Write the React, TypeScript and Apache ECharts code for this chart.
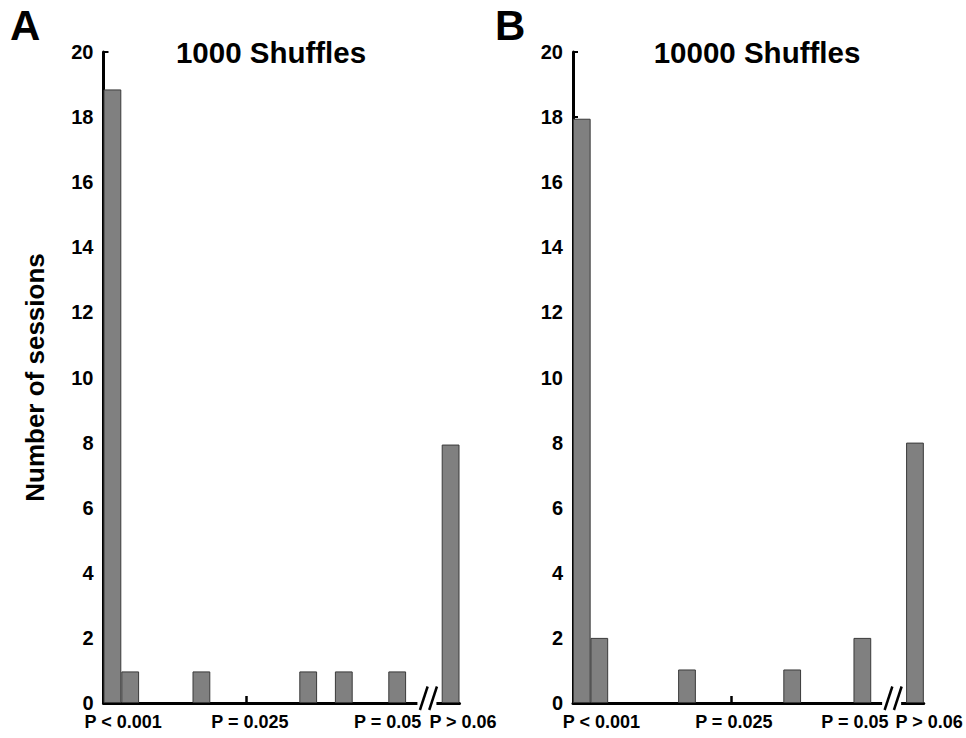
import React, { useEffect, useRef } from "react";
import * as echarts from "echarts";

// ---- data (x in bin units: bin k spans [k, k+1]) ----
const binsA = [0, 1, 5, 11, 13, 16, 19];
const countsA = [18.85, 0.97, 0.97, 0.97, 0.97, 0.97, 7.94];
const binsB = [0, 1, 6, 12, 16, 19];
const countsB = [17.95, 2, 1.03, 1.03, 2, 8];
const xTickLabels = ["P < 0.001", "P = 0.025", "P = 0.05", "P > 0.06"];
const tickPosA = [0.46, 8.01, 16.47, 19.28];
const tickPosB = [0.49, 9.0, 16.55, 19.42];
const labelPosA = [1.1, 8.23, 15.96, 20];
const labelPosB = [1.62, 9.17, 16.07, 20];
const titles = ["1000 Shuffles", "10000 Shuffles"];
const panelLetters = ["A", "B"];
const yName = "Number of sessions";
const breakAt = 18.17;

const FONT = "'Liberation Sans', Arial, sans-serif";

export default function App() {
  const ref = useRef<HTMLDivElement>(null);
  useEffect(() => {
    if (!ref.current) return;
    const chart = echarts.init(ref.current, null, { renderer: "svg" });

    const grids = [
      { left: 103.5, top: 52, width: 356, height: 651 },
      { left: 573, top: 52, width: 355, height: 651 },
    ];

    const makeX = (gi: number, ticks: number[], labels: number[], lastPad: number) => ({
      type: "value",
      gridIndex: gi,
      min: 0,
      max: 20,
      axisLine: { show: true, onZero: false, lineStyle: { color: "#000", width: 3 } },
      splitLine: { show: false },
      axisTick: {
        show: true,
        inside: true,
        length: 7,
        customValues: ticks,
        lineStyle: { color: "#000", width: 2.5 },
      },
      axisLabel: {
        show: true,
        customValues: labels,
        margin: 10,
        color: "#000",
        fontFamily: FONT,
        fontWeight: "bold",
        fontSize: 18,
        formatter: (v: number) => {
          let idx = 0;
          let best = Infinity;
          labels.forEach((l, i) => {
            if (Math.abs(l - v) < best) {
              best = Math.abs(l - v);
              idx = i;
            }
          });
          return idx === labels.length - 1 ? `{r|${xTickLabels[idx]}}` : xTickLabels[idx];
        },
        rich: {
          r: {
            padding: [0, 0, 0, lastPad],
            color: "#000",
            fontFamily: FONT,
            fontWeight: "bold",
            fontSize: 18,
          },
        },
      },
    });

    const makeY = (gi: number, withName: boolean) => ({
      type: "value",
      gridIndex: gi,
      min: 0,
      max: 20,
      interval: 2,
      name: withName ? yName : "",
      nameLocation: "middle",
      nameRotate: 90,
      nameGap: 56,
      nameTextStyle: { color: "#000", fontFamily: FONT, fontWeight: "bold", fontSize: 26 },
      axisLine: { show: true, lineStyle: { color: "#000", width: 3 } },
      splitLine: { show: false },
      axisTick: { show: true, inside: true, length: 5, lineStyle: { color: "#000", width: 2 } },
      axisLabel: {
        margin: 10,
        color: "#000",
        fontFamily: FONT,
        fontWeight: "bold",
        fontSize: 20,
      },
    });

    const barStyle = { color: "#808080", borderColor: "#3a3a3a", borderWidth: 1 };

    chart.setOption({
      animation: false,
      title: [
        {
          text: panelLetters[0],
          left: 5,
          top: -1,
          textStyle: { color: "#000", fontFamily: FONT, fontWeight: "bold", fontSize: 42 },
        },
        {
          text: panelLetters[1],
          left: 490,
          top: -1,
          textStyle: { color: "#000", fontFamily: FONT, fontWeight: "bold", fontSize: 42 },
        },
        {
          text: titles[0],
          left: 266,
          top: 32,
          textAlign: "center",
          textStyle: { color: "#000", fontFamily: FONT, fontWeight: "bold", fontSize: 29.5 },
        },
        {
          text: titles[1],
          left: 752,
          top: 32,
          textAlign: "center",
          textStyle: { color: "#000", fontFamily: FONT, fontWeight: "bold", fontSize: 29.5 },
        },
      ],
      grid: grids,
      xAxis: [makeX(0, tickPosA, labelPosA, 7), makeX(1, tickPosB, labelPosB, 11)],
      yAxis: [makeY(0, true), makeY(1, false)],
      series: [
        {
          type: "bar",
          xAxisIndex: 0,
          yAxisIndex: 0,
          barWidth: 17.8,
          itemStyle: barStyle,
          data: binsA.map((b, i) => [b + 0.5, countsA[i]]),
        },
        {
          type: "bar",
          xAxisIndex: 1,
          yAxisIndex: 1,
          barWidth: 17.75,
          itemStyle: barStyle,
          data: binsB.map((b, i) => [b + 0.5, countsB[i]]),
        },
      ],
    });

    // axis break marks "//"
    const breaks: any[] = [];
    [0, 1].forEach((gi) => {
      const p = chart.convertToPixel({ xAxisIndex: gi, yAxisIndex: gi } as any, [breakAt, 0]) as number[];
      if (!p) return;
      const cx = p[0];
      const ay = p[1];
      breaks.push(
        {
          type: "rect",
          shape: { x: cx - 9.5, y: ay - 3, width: 19, height: 6 },
          style: { fill: "#fff" },
          z: 100,
        },
        {
          type: "line",
          shape: { x1: cx - 7, y1: ay + 7, x2: cx + 0.7, y2: ay - 16.5 },
          style: { stroke: "#000", lineWidth: 2.5 },
          z: 101,
        },
        {
          type: "line",
          shape: { x1: cx + 2.3, y1: ay + 7, x2: cx + 10, y2: ay - 16.5 },
          style: { stroke: "#000", lineWidth: 2.5 },
          z: 101,
        }
      );
    });
    chart.setOption({ graphic: breaks });

    return () => chart.dispose();
  }, []);

  return (
    <div
      ref={ref}
      style={{ position: "fixed", left: 0, top: 0, width: 966, height: 738, background: "#fff" }}
    />
  );
}
